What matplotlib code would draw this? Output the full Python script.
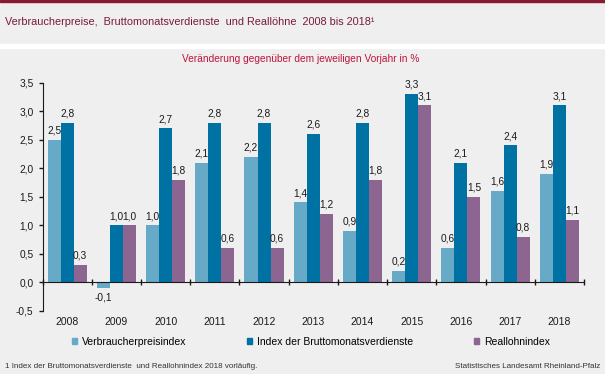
import matplotlib.pyplot as plt
import matplotlib.patches as mpatches
import matplotlib.ticker as mticker
import numpy as np

plt.rcParams['font.family'] = ['Liberation Sans', 'DejaVu Sans']

# Data
years = ['2008', '2009', '2010', '2011', '2012', '2013', '2014', '2015', '2016', '2017', '2018']
vpi = [2.5, -0.1, 1.0, 2.1, 2.2, 1.4, 0.9, 0.2, 0.6, 1.6, 1.9]
brutto = [2.8, 1.0, 2.7, 2.8, 2.8, 2.6, 2.8, 3.3, 2.1, 2.4, 3.1]
real = [0.3, 1.0, 1.8, 0.6, 0.6, 1.2, 1.8, 3.1, 1.5, 0.8, 1.1]
series_names = ['Verbraucherpreisindex', 'Index der Bruttomonatsverdienste', 'Reallohnindex']
colors = ['#67aac8', '#0071a3', '#8c6591']

bg = '#eeefee'
W, H = 605, 374
fig = plt.figure(figsize=(W / 100, H / 100), dpi=100, facecolor=bg)

# top maroon line and white separator band
fig.patches.append(mpatches.Rectangle((0, 1 - 2 / H), 1, 2 / H, transform=fig.transFigure,
                                      color='#8a1c30', zorder=0))
fig.patches.append(mpatches.Rectangle((0, 1 - 48 / H), 1, 4 / H, transform=fig.transFigure,
                                      color='white', zorder=0))

fig.text(5 / W, 1 - 22 / H, 'Verbraucherpreise,  Bruttomonatsverdienste  und Reallöhne  2008 bis 2018\u00b9',
         fontsize=7.8, color='#7a1a38', va='center', ha='left')
fig.text(301 / W, 1 - 59 / H, 'Veränderung gegenüber dem jeweiligen Vorjahr in %',
         fontsize=7.3, color='#c0143c', va='center', ha='center')

ax = fig.add_axes([42.5 / W, 1 - 310.7 / H, (584 - 42.5) / W, 228 / H])
ax.set_facecolor(bg)

x = np.arange(len(years))
bw = 0.265
for i, (vals, c) in enumerate(zip([vpi, brutto, real], colors)):
    pos = x + (i - 1) * bw
    ax.bar(pos, vals, width=bw, color=c, label=series_names[i], zorder=2)
    for p, v in zip(pos, vals):
        txt = f'{v:.1f}'.replace('.', ',')
        if v >= 0:
            ax.annotate(txt, (p, v), xytext=(0, 3), textcoords='offset points',
                        ha='center', va='bottom', fontsize=7.3, color='#1a1a1a')
        else:
            ax.annotate(txt, (p, v), xytext=(0, -3), textcoords='offset points',
                        ha='center', va='top', fontsize=7.3, color='#1a1a1a')

ax.set_xlim(-0.5, len(years) - 0.5)
ax.set_ylim(-0.5, 3.5)
ax.set_yticks(np.arange(-0.5, 3.51, 0.5))
ax.yaxis.set_major_formatter(mticker.FuncFormatter(lambda v, _: f'{v:.1f}'.replace('.', ',')))
ax.tick_params(axis='y', length=3, width=1, labelsize=7.3, colors='#1a1a1a', pad=3.5)

ax.spines['top'].set_visible(False)
ax.spines['right'].set_visible(False)
ax.spines['left'].set_color('#1a1a1a')
ax.spines['bottom'].set_position(('data', 0))
ax.spines['bottom'].set_color('#1a1a1a')
ax.spines['bottom'].set_zorder(3)

ax.set_xticks(np.arange(-0.5, len(years), 1.0))
ax.set_xticklabels([])
ax.tick_params(axis='x', which='major', length=4.5, width=1, color='#1a1a1a', direction='inout')
ax.set_xticks(x, minor=True)
ax.set_xticklabels(years, minor=True, fontsize=7.5, color='#1a1a1a')
ax.tick_params(axis='x', which='minor', length=0, pad=25)

handles = [mpatches.Patch(color=c, label=n) for c, n in zip(colors, series_names)]
fig.legend(handles=handles, loc='center', bbox_to_anchor=(311 / W, 1 - 342 / H), ncol=3,
           frameon=False, fontsize=7.5, handlelength=0.5, handleheight=0.5,
           handletextpad=0.5, columnspacing=5.8)

fig.text(5 / W, 1 - 366 / H, '1 Index der Bruttomonatsverdienste  und Reallohnindex 2018 vorläufig.',
         fontsize=5.8, color='#333333', va='center', ha='left')
fig.text(600 / W, 1 - 366 / H, 'Statistisches Landesamt Rheinland-Pfalz',
         fontsize=5.8, color='#333333', va='center', ha='right')

fig.savefig('out.png', dpi=100, facecolor=bg)
